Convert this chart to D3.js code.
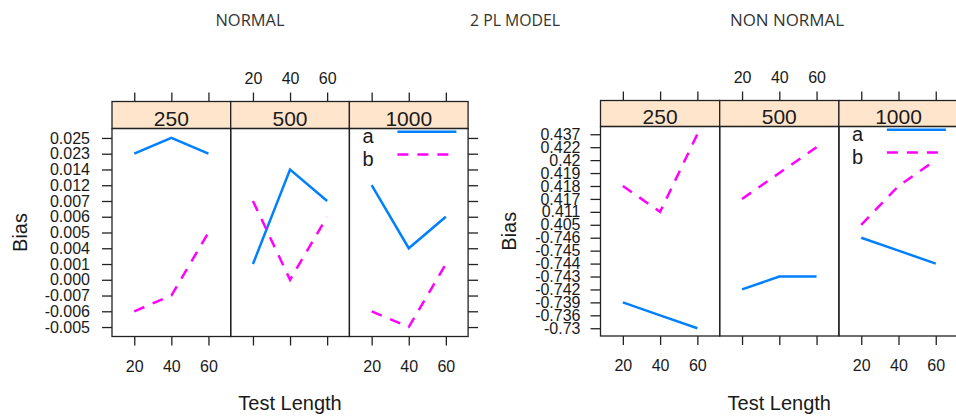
<!DOCTYPE html>
<html>
<head>
<meta charset="utf-8">
<script src="https://d3js.org/d3.v7.min.js"></script>
<style>
    body { margin: 0; background: #fff; }
    text { font-family: "Liberation Sans", Arial, sans-serif; fill: #1a1a1a; }
    .title { font-family: "Open Sans", "Noto Sans", sans-serif; fill: #333; }
</style>
</head>
<body>
<svg id="drawing_region"></svg>
<script>
// panel (sample size) and x values
const sizes = ["250", "500", "1000"];
const testLengths = [20, 40, 60];
const xTicks = [20, 40, 60];

// y axis is a factor axis: levels top -> bottom
const normalLevels = ["0.025", "0.023", "0.014", "0.012", "0.007", "0.006", "0.005",
                      "0.004", "0.001", "0.000", "-0.007", "-0.006", "-0.005"];
const normalA = [["0.023", "0.025", "0.023"], ["0.001", "0.014", "0.007"], ["0.012", "0.004", "0.006"]];
const normalB = [["-0.006", "-0.007", "0.005"], ["0.007", "0.000", "0.006"], ["-0.006", "-0.005", "0.001"]];

const nonNormalLevels = ["0.437", "0.422", "0.42", "0.419", "0.418", "0.417", "0.411", "0.405",
                         "-0.746", "-0.745", "-0.744", "-0.743", "-0.742", "-0.739", "-0.736", "-0.73"];
const nonNormalA = [["-0.739", "-0.736", "-0.73"], ["-0.742", "-0.743", "-0.743"], ["-0.746", "-0.745", "-0.744"]];
const nonNormalB = [["0.418", "0.411", "0.437"], ["0.417", "0.419", "0.422"], ["0.405", "0.418", "0.42"]];

const titles = [
    { label: "NORMAL", x: 250, w: 69 },
    { label: "2 PL MODEL", x: 515, w: 90 },
    { label: "NON NORMAL", x: 787, w: 114 }
];

const svg = d3.select('#drawing_region')
    .attr('width', 956)
    .attr('height', 419);

svg.selectAll('.title')
    .data(titles)
    .enter()
    .append('text')
    .attr('class', 'title')
    .attr('x', d => d.x - d.w / 2)
    .attr('y', 26)
    .attr('font-size', 16)
    .attr('textLength', d => d.w)
    .attr('lengthAdjust', 'spacingAndGlyphs')
    .text(d => d.label);

class TrellisChart {

    constructor(config, levels, seriesA, seriesB) {
        this.config = config;
        this.levels = levels;
        this.seriesA = seriesA;
        this.seriesB = seriesB;
        this.init();
    }

    init() {
        let self = this;
        let c = self.config;
        self.g = svg.append('g');

        self.y = d3.scalePoint()
            .domain(self.levels)
            .range([c.stripBottom, c.bottom])
            .padding(0.6);

        self.xs = sizes.map((s, i) => d3.scaleLinear()
            .domain([8, 72])
            .range([c.left + i * c.panelW, c.left + (i + 1) * c.panelW]));
    }

    render() {
        let self = this;
        let c = self.config;
        let g = self.g;

        sizes.forEach((s, i) => {
            let x = self.xs[i];
            let x0 = c.left + i * c.panelW;

            // strip
            g.append('rect')
                .attr('x', x0).attr('y', c.stripTop)
                .attr('width', c.panelW).attr('height', c.stripBottom - c.stripTop)
                .attr('fill', '#ffe5cc')
                .attr('stroke', '#222').attr('stroke-width', 1.3);
            g.append('text')
                .attr('x', x0 + c.panelW / 2).attr('y', c.stripBottom - 3)
                .attr('text-anchor', 'middle')
                .attr('font-size', 21)
                .text(s);

            // panel frame
            g.append('rect')
                .attr('x', x0).attr('y', c.stripBottom)
                .attr('width', c.panelW).attr('height', c.bottom - c.stripBottom)
                .attr('fill', 'none')
                .attr('stroke', '#222').attr('stroke-width', 1.3);

            // x axes: labels alternate bottom / top
            let bottomAxis = d3.axisBottom(x).tickValues(xTicks).tickSize(9).tickPadding(15)
                .tickFormat(i === 1 ? '' : d3.format('d'));
            let topAxis = d3.axisTop(x).tickValues(xTicks).tickSize(9).tickPadding(9)
                .tickFormat(i === 1 ? d3.format('d') : '');
            [
                g.append('g').attr('transform', `translate(0, ${c.bottom})`).call(bottomAxis),
                g.append('g').attr('transform', `translate(0, ${c.stripTop})`).call(topAxis)
            ].forEach(a => {
                a.select('.domain').remove();
                a.selectAll('line').attr('stroke', '#222').attr('stroke-width', 1.3);
                a.selectAll('text').attr('font-size', 16).attr('fill', '#1a1a1a')
                    .attr('font-family', '"Liberation Sans", Arial, sans-serif');
            });

            // lines
            let line = d3.line()
                .x((d, j) => x(testLengths[j]))
                .y(d => self.y(d));
            g.append('path')
                .attr('d', line(self.seriesA[i]))
                .attr('fill', 'none')
                .attr('stroke', '#0080ff')
                .attr('stroke-width', 2.5);
            g.append('path')
                .attr('d', line(self.seriesB[i]))
                .attr('fill', 'none')
                .attr('stroke', '#ff00ff')
                .attr('stroke-width', 2.5)
                .attr('stroke-dasharray', '11,9');
        });

        // y axes
        let yLeft = g.append('g')
            .attr('transform', `translate(${c.left}, 0)`)
            .call(d3.axisLeft(self.y).tickSize(10).tickPadding(c.yPad));
        let yRight = g.append('g')
            .attr('transform', `translate(${c.left + 3 * c.panelW}, 0)`)
            .call(d3.axisRight(self.y).tickSize(10).tickFormat(''));
        [yLeft, yRight].forEach(a => {
            a.select('.domain').remove();
            a.selectAll('line').attr('stroke', '#222').attr('stroke-width', 1.3);
            a.selectAll('text').attr('font-size', 16).attr('fill', '#1a1a1a')
                .attr('font-family', '"Liberation Sans", Arial, sans-serif');
        });

        // legend inside the last panel
        let lx = c.left + 2 * c.panelW;
        let legend = [
            { key: 'a', col: '#0080ff', dash: null, ly: 3.3, ty: 14.5 },
            { key: 'b', col: '#ff00ff', dash: '11,9', ly: 26, ty: 37 }
        ];
        legend.forEach(d => {
            g.append('text')
                .attr('x', lx + 13).attr('y', c.stripBottom + d.ty)
                .attr('font-size', 20)
                .text(d.key);
            g.append('line')
                .attr('x1', lx + 48).attr('x2', lx + 107)
                .attr('y1', c.stripBottom + d.ly).attr('y2', c.stripBottom + d.ly)
                .attr('stroke', d.col).attr('stroke-width', 2.5)
                .attr('stroke-dasharray', d.dash);
        });

        // axis titles
        g.append('text')
            .attr('x', c.left + 1.5 * c.panelW).attr('y', 410)
            .attr('text-anchor', 'middle')
            .attr('font-size', 20)
            .text('Test Length');
        g.append('text')
            .attr('transform', `translate(${c.biasX}, ${(c.stripBottom + c.bottom) / 2}) rotate(-90)`)
            .attr('text-anchor', 'middle')
            .attr('font-size', 20)
            .text('Bias');
    }
}

const normalChart = new TrellisChart(
    { left: 112, panelW: 118.7, stripTop: 101.5, stripBottom: 128.5, bottom: 336.5, yPad: 12, biasX: 27 },
    normalLevels, normalA, normalB);
normalChart.render();

const nonNormalChart = new TrellisChart(
    { left: 600.5, panelW: 119.2, stripTop: 100.5, stripBottom: 126.5, bottom: 336, yPad: 10, biasX: 516 },
    nonNormalLevels, nonNormalA, nonNormalB);
nonNormalChart.render();
</script>
</body>
</html>
